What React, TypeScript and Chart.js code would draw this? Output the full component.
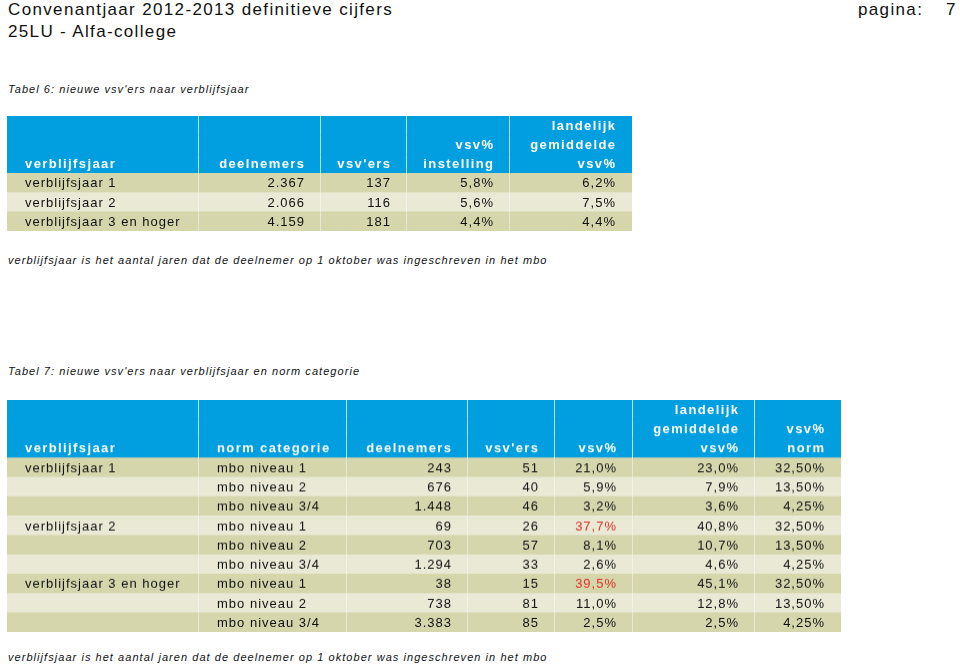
import React, { useEffect, useRef } from 'react';
import { Chart, registerables } from 'chart.js';

Chart.register(...registerables);

const FONT = '"Liberation Sans", Arial, Helvetica, sans-serif';
const BLUE = '#019ee0';
const DARK = '#d5d6ac';
const LIGHT = '#e9e9d6';
const RED = '#e0302a';

// ---- Tabel 6 ----
const t6Header: string[][] = [
  ['', '', '', '', 'landelijk'],
  ['', '', '', 'vsv%', 'gemiddelde'],
  ['verblijfsjaar', 'deelnemers', "vsv'ers", 'instelling', 'vsv%'],
];
const t6Verblijfsjaar = ['verblijfsjaar 1', 'verblijfsjaar 2', 'verblijfsjaar 3 en hoger'];
const t6Deelnemers = [2367, 2066, 4159];
const t6VsvErs = [137, 116, 181];
const t6VsvPct = [5.8, 5.6, 4.4];
const t6Landelijk = [6.2, 7.5, 4.4];

// ---- Tabel 7 ----
const t7Header: string[][] = [
  ['', '', '', '', '', 'landelijk', ''],
  ['', '', '', '', '', 'gemiddelde', 'vsv%'],
  ['verblijfsjaar', 'norm categorie', 'deelnemers', "vsv'ers", 'vsv%', 'vsv%', 'norm'],
];
const t7Verblijfsjaar = ['verblijfsjaar 1', '', '', 'verblijfsjaar 2', '', '', 'verblijfsjaar 3 en hoger', '', ''];
const t7Norm = ['mbo niveau 1', 'mbo niveau 2', 'mbo niveau 3/4', 'mbo niveau 1', 'mbo niveau 2', 'mbo niveau 3/4', 'mbo niveau 1', 'mbo niveau 2', 'mbo niveau 3/4'];
const t7Deelnemers = [243, 676, 1448, 69, 703, 1294, 38, 738, 3383];
const t7VsvErs = [51, 40, 46, 26, 57, 33, 15, 81, 85];
const t7VsvPct = [21.0, 5.9, 3.2, 37.7, 8.1, 2.6, 39.5, 11.0, 2.5];
const t7Landelijk = [23.0, 7.9, 3.6, 40.8, 10.7, 4.6, 45.1, 12.8, 2.5];
const t7NormPct = [32.5, 13.5, 4.25, 32.5, 13.5, 4.25, 32.5, 13.5, 4.25];

// layout (column edges in page pixels)
const T6_EDGES = [7, 199, 321, 407, 510, 632];
const T6_ALIGN = ['left', 'right', 'right', 'right', 'right'];
const T7_EDGES = [7, 199, 347, 468, 555, 633, 755, 841];
const T7_ALIGN = ['left', 'left', 'right', 'right', 'right', 'right', 'right'];

const fmtInt = (v: number) => String(v).replace(/\B(?=(\d{3})+(?!\d))/g, '.');
const fmtPct = (v: number, d: number) => v.toFixed(d).replace('.', ',') + '%';

type Cell = { text: string; color?: string };

const t6Body: Cell[][] = t6Verblijfsjaar.map((v, i) => [
  { text: v },
  { text: fmtInt(t6Deelnemers[i]) },
  { text: String(t6VsvErs[i]) },
  { text: fmtPct(t6VsvPct[i], 1) },
  { text: fmtPct(t6Landelijk[i], 1) },
]);

const t7Body: Cell[][] = t7Norm.map((n, i) => [
  { text: t7Verblijfsjaar[i] },
  { text: n },
  { text: fmtInt(t7Deelnemers[i]) },
  { text: String(t7VsvErs[i]) },
  { text: fmtPct(t7VsvPct[i], 1), color: t7VsvPct[i] > t7NormPct[i] ? RED : undefined },
  { text: fmtPct(t7Landelijk[i], 1) },
  { text: fmtPct(t7NormPct[i], 2) },
]);

type TableProps = {
  top: number;
  rowH: number;
  edges: number[];
  align: string[];
  header: string[][];
  body: Cell[][];
};

function TableChart({ top, rowH, edges, align, header, body }: TableProps) {
  const ref = useRef<HTMLCanvasElement | null>(null);
  const nRows = header.length + body.length;
  const width = edges[edges.length - 1] - edges[0];
  const height = rowH * nRows;

  useEffect(() => {
    if (!ref.current) return;
    const h = header.length;
    const labels = Array.from({ length: nRows }, (_, i) => 'r' + i);
    const rowBg = labels.map((_, i) => (i < h ? BLUE : (i - h) % 2 === 0 ? DARK : LIGHT));
    const rowLine = labels.map((_, i) => (i < h ? 'rgba(255,255,255,0.7)' : 'rgba(255,255,255,0.45)'));
    const nCols = edges.length - 1;
    const cellSets = Array.from({ length: nCols }, (_, j) => ({
      label: 'c' + j,
      data: labels.map(() => [edges[j], edges[j + 1]] as [number, number]),
      backgroundColor: rowBg,
      borderWidth: 0,
      grouped: false,
      inflateAmount: 0.7,
      barPercentage: 1,
      categoryPercentage: 1,
      order: 2,
    }));
    const sepSets = edges.slice(1, -1).map((e, k) => ({
      label: 's' + k,
      data: labels.map(() => [e - 1, e] as [number, number]),
      backgroundColor: rowLine,
      borderWidth: 0,
      grouped: false,
      inflateAmount: 0,
      barPercentage: 1,
      categoryPercentage: 1,
      order: 1,
    }));

    const textPlugin = {
      id: 'tableText',
      afterDatasetsDraw(chart: any) {
        const { ctx, scales } = chart;
        const xs = scales.x;
        const ys = scales.y;
        ctx.save();
        ctx.textBaseline = 'middle';
        const rows: Cell[][] = [...header.map((r) => r.map((t) => ({ text: t }))), ...body];
        rows.forEach((row, i) => {
          const isHead = i < h;
          const yy = ys.getPixelForValue(i) + 0.5;
          ctx.font = (isHead ? 'bold ' : '') + '13px ' + FONT;
          const sp = isHead ? 1.4 : 1.0;
          (ctx as any).letterSpacing = sp + 'px';
          row.forEach((cell, j) => {
            if (!cell.text) return;
            ctx.fillStyle = isHead ? '#ffffff' : cell.color || '#111111';
            if (align[j] === 'left') {
              ctx.textAlign = 'left';
              ctx.fillText(cell.text, xs.getPixelForValue(edges[j]) + 18, yy);
            } else {
              ctx.textAlign = 'right';
              ctx.fillText(cell.text, xs.getPixelForValue(edges[j + 1]) - 17 + sp, yy);
            }
          });
        });
        ctx.restore();
      },
    };

    const chart = new Chart(ref.current, {
      type: 'bar',
      data: { labels, datasets: [...cellSets, ...sepSets] as any },
      options: {
        indexAxis: 'y',
        animation: false,
        responsive: true,
        maintainAspectRatio: false,
        events: [],
        layout: { padding: 0 },
        plugins: { legend: { display: false }, tooltip: { enabled: false }, title: { display: false } },
        scales: {
          x: { type: 'linear', display: false, min: edges[0], max: edges[edges.length - 1] },
          y: { type: 'category', display: false, offset: true, grid: { display: false } },
        },
      } as any,
      plugins: [textPlugin],
    });
    return () => chart.destroy();
  }, []);

  return (
    <div style={{ position: 'absolute', left: edges[0], top, width, height }}>
      <canvas ref={ref} />
    </div>
  );
}

const textBase: React.CSSProperties = {
  position: 'absolute',
  whiteSpace: 'nowrap',
  fontFamily: FONT,
  color: '#111',
};

function Line({ x, y, size, text, italic, spacing }: { x: number; y: number; size: number; text: string; italic?: boolean; spacing: number }) {
  return (
    <div
      style={{
        ...textBase,
        left: x,
        top: y - 10,
        height: 20,
        lineHeight: '20px',
        fontSize: size,
        fontStyle: italic ? 'italic' : 'normal',
        letterSpacing: spacing,
      }}
    >
      {text}
    </div>
  );
}

const FOOT = 'verblijfsjaar is het aantal jaren dat de deelnemer op 1 oktober was ingeschreven in het mbo';

export default function App() {
  return (
    <div style={{ position: 'absolute', left: 0, top: 0, width: 960, height: 664, background: '#fff', overflow: 'hidden' }}>
      <Line x={8} y={10} size={17} spacing={1.35} text="Convenantjaar 2012-2013 definitieve cijfers" />
      <Line x={8} y={32} size={17} spacing={1.35} text="25LU - Alfa-college" />
      <Line x={858} y={10} size={17} spacing={1.35} text="pagina:" />
      <Line x={946} y={10} size={17} spacing={1.35} text="7" />
      <Line x={8} y={89} size={11} italic spacing={1.05} text="Tabel 6: nieuwe vsv'ers naar verblijfsjaar" />
      <TableChart top={116} rowH={19.22} edges={T6_EDGES} align={T6_ALIGN} header={t6Header} body={t6Body} />
      <Line x={8} y={260} size={11} italic spacing={1.05} text={FOOT} />
      <Line x={8} y={371} size={11} italic spacing={1.05} text="Tabel 7: nieuwe vsv'ers naar verblijfsjaar en norm categorie" />
      <TableChart top={400} rowH={19.3} edges={T7_EDGES} align={T7_ALIGN} header={t7Header} body={t7Body} />
      <Line x={8} y={657} size={11} italic spacing={1.05} text={FOOT} />
    </div>
  );
}
